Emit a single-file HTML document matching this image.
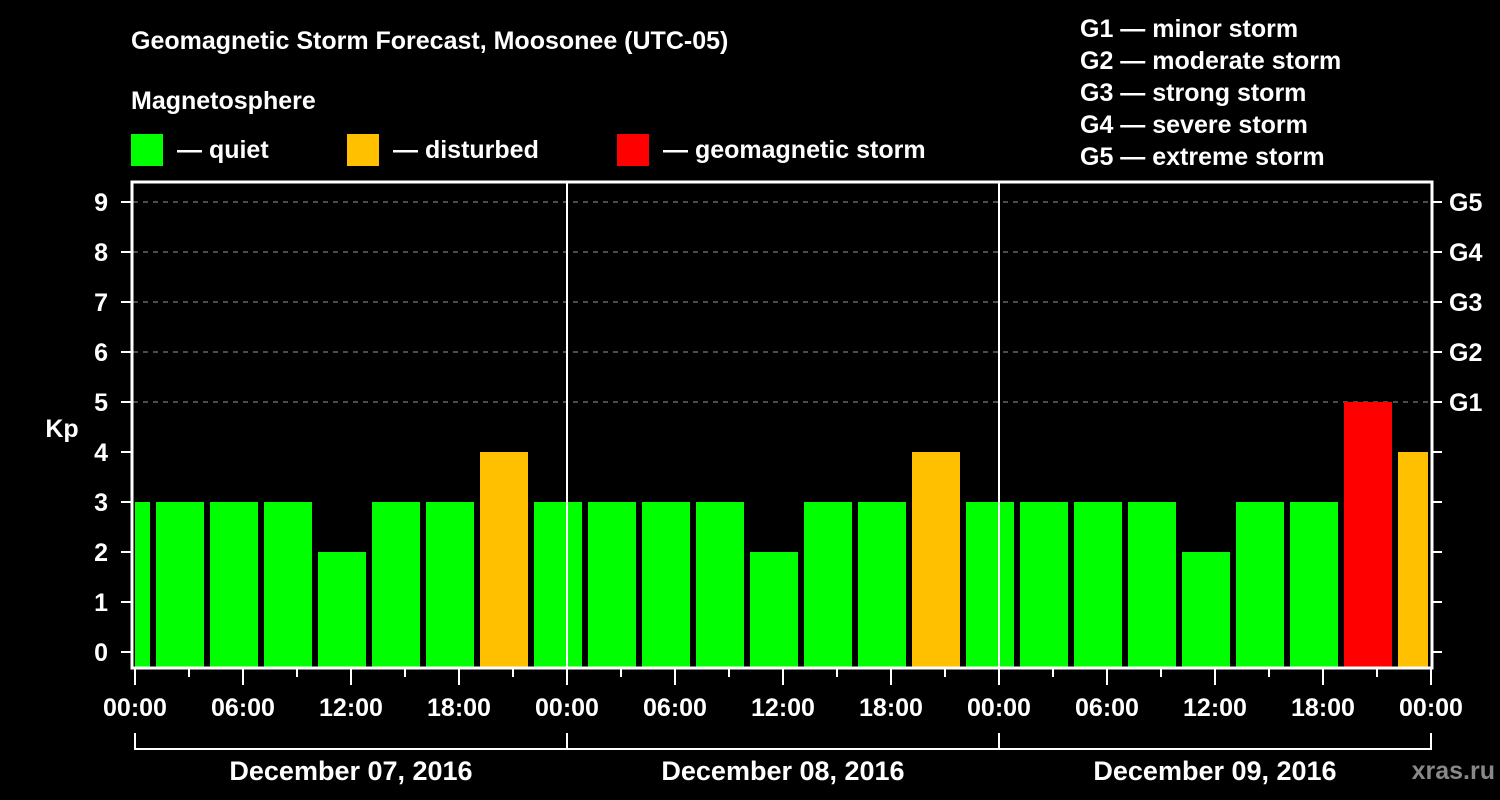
<!DOCTYPE html>
<html><head><meta charset="utf-8"><style>
html,body{margin:0;padding:0;background:#000;}
svg{display:block;font-family:"Liberation Sans",Arial,sans-serif;font-weight:bold;}
</style></head><body>
<svg id="chart" width="1500" height="800" viewBox="0 0 1500 800">
<rect x="0" y="0" width="1500" height="800" fill="#000"/>
<text x="131" y="49" fill="#fff" font-size="25">Geomagnetic Storm Forecast, Moosonee (UTC-05)</text>
<text x="131" y="109" fill="#fff" font-size="25">Magnetosphere</text>
<g><rect x="131" y="134" width="32" height="32" fill="#00ff00"/><text x="177" y="158" fill="#fff" font-size="25">— quiet</text></g>
<g><rect x="347" y="134" width="32" height="32" fill="#ffc000"/><text x="393" y="158" fill="#fff" font-size="25">— disturbed</text></g>
<g><rect x="617" y="134" width="32" height="32" fill="#ff0000"/><text x="663" y="158" fill="#fff" font-size="25">— geomagnetic storm</text></g>
<g fill="#fff" font-size="25">
<text x="1080" y="37">G1 — minor storm</text>
<text x="1080" y="69">G2 — moderate storm</text>
<text x="1080" y="101">G3 — strong storm</text>
<text x="1080" y="133">G4 — severe storm</text>
<text x="1080" y="165">G5 — extreme storm</text>
</g>
<text x="62" y="437" fill="#fff" font-size="25" text-anchor="middle">Kp</text>
<g id="plot"></g>
<text x="1495" y="779" fill="#888" font-size="25" text-anchor="end">xras.ru</text>
</svg>
<script>
const barStartHours = [-2,1,4,7,10,13,16,19,22,25,28,31,34,37,40,43,46,49,52,55,58,61,64,67,70];
const kpValues = [3,3,3,3,2,3,3,4,3,3,3,3,2,3,3,4,3,3,3,3,2,3,3,5,4];
const kpTicks = [0,1,2,3,4,5,6,7,8,9];
const gLabels = ["G1","G2","G3","G4","G5"];
const gLevels = [5,6,7,8,9];
const timeLabels = ["00:00","06:00","12:00","18:00","00:00","06:00","12:00","18:00","00:00","06:00","12:00","18:00","00:00"];
const dayLabels = ["December 07, 2016","December 08, 2016","December 09, 2016"];

const NS="http://www.w3.org/2000/svg";
const X0=135, PXH=18, Y0=652, PXK=50;
const xs = h => X0 + h*PXH;
const ys = k => Y0 - k*PXK;
const plot=document.getElementById('plot');
function mk(tag, attrs){const e=document.createElementNS(NS,tag);for(const k in attrs)e.setAttribute(k,attrs[k]);plot.appendChild(e);return e;}

// grid
gLevels.forEach(k=>{
  const l=mk('line',{x1:133,x2:1431,y1:ys(k),y2:ys(k),stroke:'#999','stroke-width':1,'stroke-dasharray':'5,5'});
  
  
});
// bars
const clipL=135, clipR=1428;
barStartHours.forEach((h,i)=>{
  const v=kpValues[i];
  let x1=Math.max(clipL,xs(h)+3), x2=Math.min(clipR,xs(h+3)-3);
  const col=v>=5?'#ff0000':(v>=4?'#ffc000':'#00ff00');
  const r=mk('rect',{x:x1,y:ys(v),width:x2-x1,height:668-ys(v),fill:col});
  
  
});
// day dividers
[24,48].forEach(h=>{
  const l=mk('line',{x1:xs(h),x2:xs(h),y1:182,y2:668,stroke:'#fff','stroke-width':2});
  
  
});
// frame
const fr=mk('rect',{x:132,y:182,width:1300,height:486,fill:'none',stroke:'#fff','stroke-width':3});


// y ticks
kpTicks.forEach(k=>{
  const t=mk('line',{x1:121,x2:132,y1:ys(k),y2:ys(k),stroke:'#fff','stroke-width':2});
  
  
  const t2=mk('line',{x1:1432,x2:1442,y1:ys(k),y2:ys(k),stroke:'#fff','stroke-width':2});
  
  
  const tx=mk('text',{x:108,y:ys(k)+9,fill:'#fff','font-size':25,'text-anchor':'end'});
  tx.textContent=k;
  
  
});
gLabels.forEach((g,i)=>{
  const tx=mk('text',{x:1449,y:ys(gLevels[i])+9,fill:'#fff','font-size':25});
  tx.textContent=g;
  
  
});
// x ticks
for(let h=0;h<=72;h+=3){
  const major=h%6===0;
  const t=mk('line',{x1:xs(h),x2:xs(h),y1:668,y2:major?685:677,stroke:'#fff','stroke-width':2});
  
  
}
timeLabels.forEach((s,i)=>{
  const tx=mk('text',{x:xs(i*6),y:716,fill:'#fff','font-size':25,'text-anchor':'middle'});
  tx.textContent=s;
  
  
});
// day brackets
const br=mk('line',{x1:xs(0),x2:xs(72),y1:749,y2:749,stroke:'#fff','stroke-width':2});


[0,24,48,72].forEach(h=>{
  const l=mk('line',{x1:xs(h),x2:xs(h),y1:733,y2:750,stroke:'#fff','stroke-width':2});
  
  
});
dayLabels.forEach((d,i)=>{
  const tx=mk('text',{x:xs(i*24+12),y:780,fill:'#fff','font-size':27,'text-anchor':'middle'});
  tx.textContent=d;
  
  
});
</script>
</body></html>
